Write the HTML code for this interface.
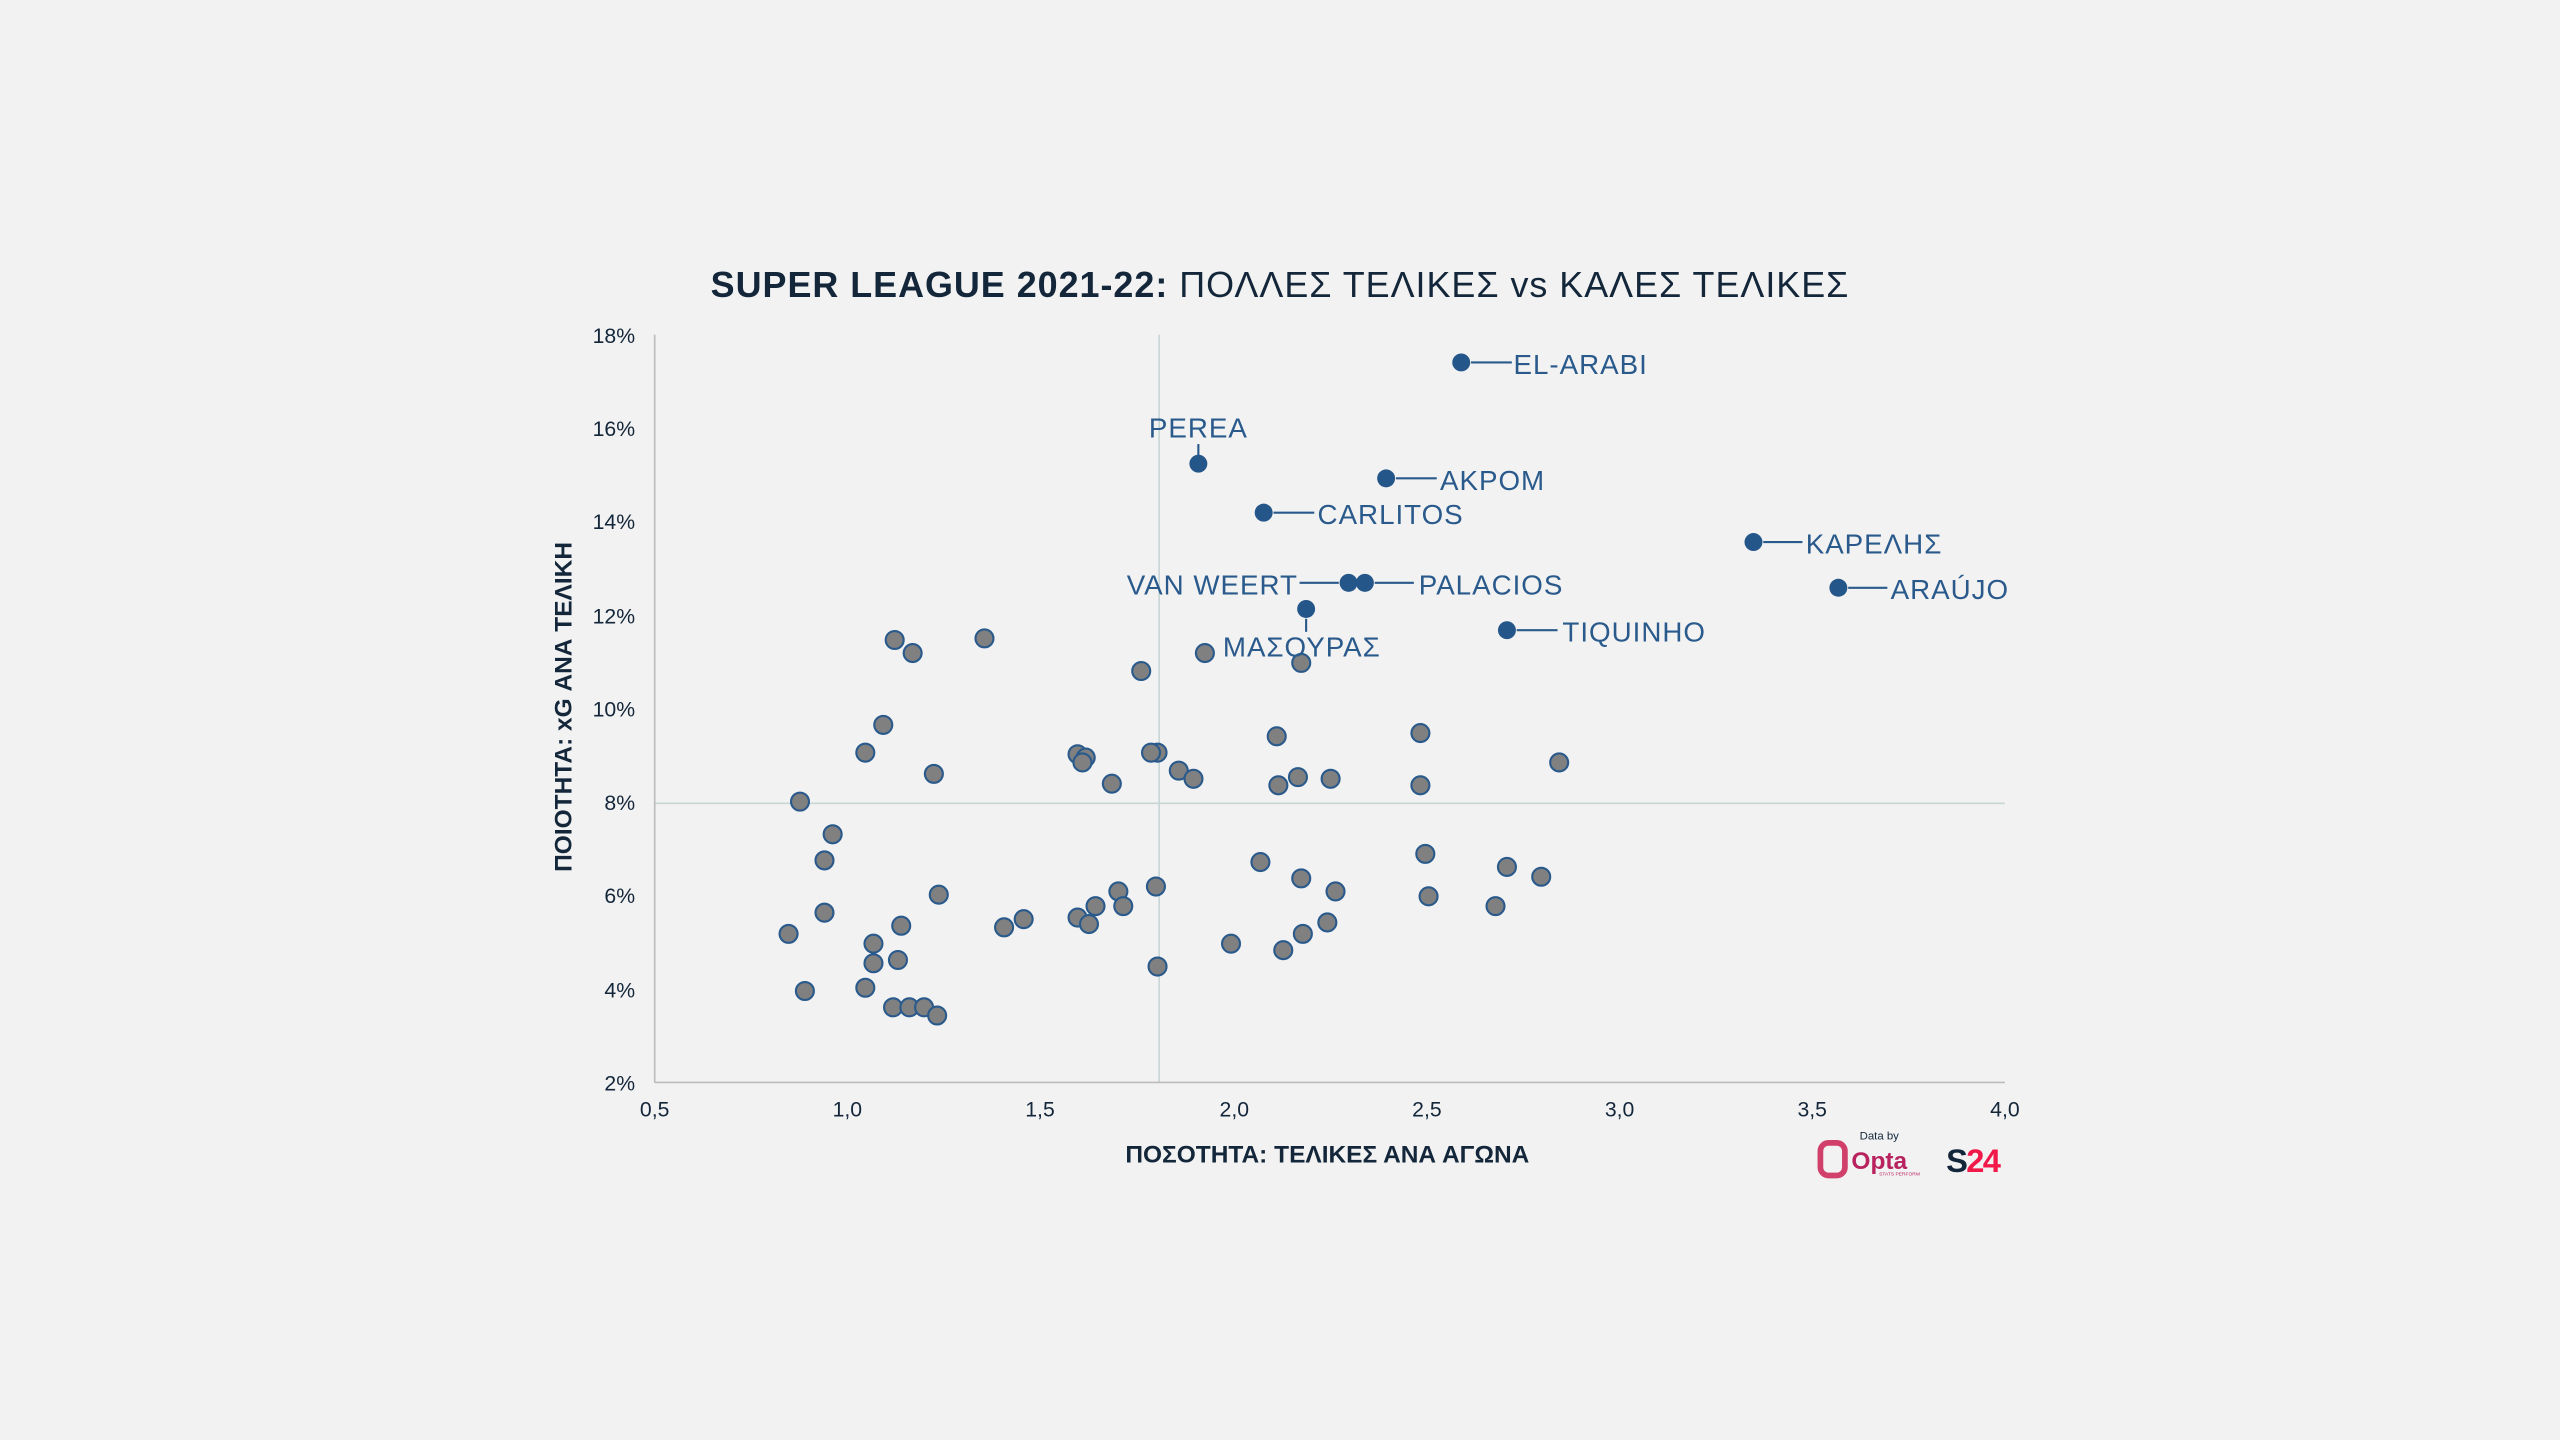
<!DOCTYPE html>
<html><head><meta charset="utf-8"><style>
html,body{margin:0;padding:0;background:#f2f2f2;}
svg{display:block;}
</style></head><body>
<svg width="2560" height="1440" viewBox="0 0 1568 882" xmlns="http://www.w3.org/2000/svg" font-family="Liberation Sans, DejaVu Sans, sans-serif">
<rect width="1568" height="882" fill="#f2f2f2"/>
<text x="784" y="182" text-anchor="middle" font-size="22" fill="#13263a" font-weight="bold" letter-spacing="0.6">SUPER LEAGUE 2021-22: <tspan font-weight="normal">ΠΟΛΛΕΣ ΤΕΛΙΚΕΣ vs ΚΑΛΕΣ ΤΕΛΙΚΕΣ</tspan></text>
<line x1="710" y1="205" x2="710" y2="663" stroke="#c8d6d6" stroke-width="1"/>
<line x1="401" y1="492" x2="1228" y2="492" stroke="#c8d6d6" stroke-width="1"/>
<line x1="401" y1="205" x2="401" y2="663" stroke="#bbb" stroke-width="1"/>
<line x1="401" y1="663" x2="1228" y2="663" stroke="#bbb" stroke-width="1"/>
<g font-size="13" fill="#13263a" text-anchor="end">
<text x="389" y="210">18%</text><text x="389" y="267">16%</text><text x="389" y="324">14%</text><text x="389" y="382">12%</text><text x="389" y="439">10%</text><text x="389" y="496">8%</text><text x="389" y="553">6%</text><text x="389" y="611">4%</text><text x="389" y="668">2%</text>
</g>
<g font-size="13" fill="#13263a" text-anchor="middle">
<text x="401" y="684">0,5</text><text x="519" y="684">1,0</text><text x="637" y="684">1,5</text><text x="756" y="684">2,0</text><text x="874" y="684">2,5</text><text x="992" y="684">3,0</text><text x="1110" y="684">3,5</text><text x="1228" y="684">4,0</text>
</g>
<text x="813" y="712" text-anchor="middle" font-size="15" font-weight="bold" fill="#13263a">ΠΟΣΟΤΗΤΑ: ΤΕΛΙΚΕΣ ΑΝΑ ΑΓΩΝΑ</text>
<text transform="translate(350,433) rotate(-90)" text-anchor="middle" font-size="15" font-weight="bold" fill="#13263a">ΠΟΙΟΤΗΤΑ: xG ΑΝΑ ΤΕΛΙΚΗ</text>
<g fill="#808080" stroke="#2a5a8c" stroke-width="1.3">
<circle cx="548" cy="392" r="5.5"/><circle cx="559" cy="400" r="5.5"/><circle cx="603" cy="391" r="5.5"/><circle cx="699" cy="411" r="5.5"/><circle cx="738" cy="400" r="5.5"/><circle cx="797" cy="406" r="5.5"/><circle cx="541" cy="444" r="5.5"/><circle cx="530" cy="461" r="5.5"/><circle cx="572" cy="474" r="5.5"/><circle cx="660" cy="462" r="5.5"/><circle cx="665" cy="464" r="5.5"/><circle cx="663" cy="467" r="5.5"/><circle cx="709" cy="461" r="5.5"/><circle cx="705" cy="461" r="5.5"/><circle cx="681" cy="480" r="5.5"/><circle cx="722" cy="472" r="5.5"/><circle cx="731" cy="477" r="5.5"/><circle cx="782" cy="451" r="5.5"/><circle cx="870" cy="449" r="5.5"/><circle cx="955" cy="467" r="5.5"/><circle cx="783" cy="481" r="5.5"/><circle cx="795" cy="476" r="5.5"/><circle cx="815" cy="477" r="5.5"/><circle cx="870" cy="481" r="5.5"/><circle cx="490" cy="491" r="5.5"/><circle cx="510" cy="511" r="5.5"/><circle cx="505" cy="527" r="5.5"/><circle cx="575" cy="548" r="5.5"/><circle cx="505" cy="559" r="5.5"/><circle cx="483" cy="572" r="5.5"/><circle cx="552" cy="567" r="5.5"/><circle cx="535" cy="578" r="5.5"/><circle cx="535" cy="590" r="5.5"/><circle cx="550" cy="588" r="5.5"/><circle cx="615" cy="568" r="5.5"/><circle cx="627" cy="563" r="5.5"/><circle cx="660" cy="562" r="5.5"/><circle cx="667" cy="566" r="5.5"/><circle cx="671" cy="555" r="5.5"/><circle cx="685" cy="546" r="5.5"/><circle cx="688" cy="555" r="5.5"/><circle cx="708" cy="543" r="5.5"/><circle cx="709" cy="592" r="5.5"/><circle cx="754" cy="578" r="5.5"/><circle cx="772" cy="528" r="5.5"/><circle cx="797" cy="538" r="5.5"/><circle cx="818" cy="546" r="5.5"/><circle cx="798" cy="572" r="5.5"/><circle cx="813" cy="565" r="5.5"/><circle cx="786" cy="582" r="5.5"/><circle cx="873" cy="523" r="5.5"/><circle cx="875" cy="549" r="5.5"/><circle cx="923" cy="531" r="5.5"/><circle cx="944" cy="537" r="5.5"/><circle cx="916" cy="555" r="5.5"/><circle cx="493" cy="607" r="5.5"/><circle cx="530" cy="605" r="5.5"/><circle cx="547" cy="617" r="5.5"/><circle cx="557" cy="617" r="5.5"/><circle cx="566" cy="617" r="5.5"/><circle cx="574" cy="622" r="5.5"/>
</g>
<g stroke="#2a5a8c" stroke-width="1.3">
<line x1="901" y1="222" x2="926" y2="222"/><line x1="734" y1="272" x2="734" y2="280"/><line x1="855" y1="293" x2="880" y2="293"/><line x1="780" y1="314" x2="805" y2="314"/><line x1="1080" y1="332" x2="1104" y2="332"/><line x1="1132" y1="360" x2="1156" y2="360"/><line x1="796" y1="357" x2="820" y2="357"/><line x1="842" y1="357" x2="866" y2="357"/><line x1="800" y1="379" x2="800" y2="387"/><line x1="929" y1="386" x2="954" y2="386"/>
</g>
<g fill="#25568a">
<circle cx="895" cy="222" r="5.5"/><circle cx="734" cy="284" r="5.5"/><circle cx="849" cy="293" r="5.5"/><circle cx="774" cy="314" r="5.5"/><circle cx="1074" cy="332" r="5.5"/><circle cx="1126" cy="360" r="5.5"/><circle cx="826" cy="357" r="5.5"/><circle cx="836" cy="357" r="5.5"/><circle cx="800" cy="373" r="5.5"/><circle cx="923" cy="386" r="5.5"/>
</g>
<g font-size="17" fill="#2a5a8c" letter-spacing="0.6">
<text x="927" y="229">EL-ARABI</text>
<text x="734" y="268" text-anchor="middle">PEREA</text>
<text x="882" y="300">ΑΚΡΟΜ</text>
<text x="807" y="321">CARLITOS</text>
<text x="1106" y="339">ΚΑΡΕΛΗΣ</text>
<text x="1158" y="367">ARAÚJO</text>
<text x="795" y="364" text-anchor="end">VAN WEERT</text>
<text x="869" y="364">PALACIOS</text>
<text x="749" y="402">ΜΑΣΟΥΡΑΣ</text>
<text x="957" y="393">TIQUINHO</text>
</g>
<text x="1139" y="698" font-size="7" fill="#13263a">Data by</text>
<rect x="1115" y="700" width="15" height="20" rx="5" fill="none" stroke="#d0406a" stroke-width="3.5"/>
<text x="1134" y="716" font-size="15" font-weight="bold" fill="#b8225e">Opta</text>
<text x="1151" y="720" font-size="3" fill="#b8225e">STATS PERFORM</text>
<text x="1192" y="718" font-size="20" font-weight="bold" fill="#13263a" letter-spacing="-1">S<tspan fill="#f0194a">24</tspan></text>
</svg>
</body></html>
